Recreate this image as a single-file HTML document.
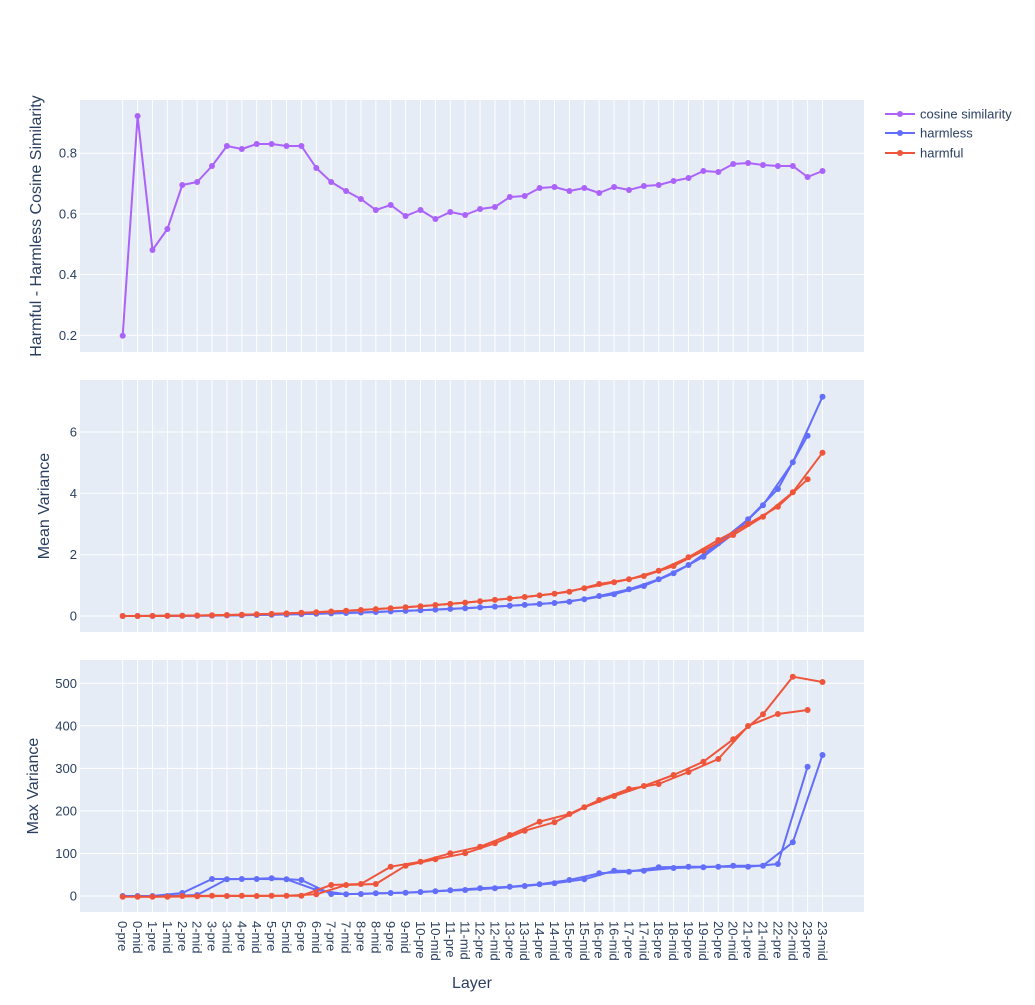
<!DOCTYPE html>
<html><head><meta charset="utf-8"><style>
html,body{margin:0;padding:0;background:#fff;}
svg text{font-family:"Liberation Sans",Arial,sans-serif;fill:#2a3f5f;}
</style></head><body>
<svg id="s" width="1035" height="1000" xmlns="http://www.w3.org/2000/svg"></svg>
<script>
const s=document.getElementById('s');
let h='';
const L=80,R=864,X0=122.7,DX=14.89;
const xs=i=>X0+i*DX;
const cats=[];for(let l=0;l<24;l++){cats.push(l+'-pre');cats.push(l+'-mid');}
const panels=[[100,352],[380,632],[660,912]];
for(const [t,b] of panels){
 h+=`<rect x="${L}" y="${t}" width="${R-L}" height="${b-t}" fill="#e5ecf6"/>`;
 for(let i=0;i<48;i++) h+=`<line x1="${xs(i)}" x2="${xs(i)}" y1="${t}" y2="${b}" stroke="#fff" stroke-width="1"/>`;
}
function yt(vals,ys){vals.forEach((v,k)=>{h+=`<line x1="${L}" x2="${R}" y1="${ys[k]}" y2="${ys[k]}" stroke="#fff" stroke-width="1"/>`;h+=`<text x="${L-3}" y="${ys[k]+4.5}" font-size="13" text-anchor="end">${v}</text>`;});}
yt(['0.2','0.4','0.6','0.8'],[335.3,274.6,213.9,153.2]);
yt(['0','2','4','6'],[616,554.7,493.3,432]);
yt(['0','100','200','300','400','500'],[896,853.5,810.9,768.4,725.8,683.3]);
cats.forEach((c,i)=>{h+=`<text transform="translate(${xs(i)-4.5},921) rotate(90)" font-size="13">${c}</text>`;});
function line(pts,col){h+=`<polyline points="${pts.map(p=>p[0].toFixed(1)+','+p[1].toFixed(1)).join(' ')}" fill="none" stroke="${col}" stroke-width="2" stroke-linejoin="round"/>`;pts.forEach(p=>{h+=`<circle cx="${p[0].toFixed(1)}" cy="${p[1].toFixed(1)}" r="3" fill="${col}"/>`;});}
const cos=[335.7,116,250,229,185,182,166,146,149,144,144,146,146,168,182,191,199,210,205,216,210,219,212,215,209,207,197,196,188,187,191,188,193,187,190,186,185,181,178,171,172,164,163,165,166,166,177,171];
line(cos.map((y,i)=>[xs(i),y]),'#ab63fa');
function split(arr,col){const pre=[],mid=[];arr.forEach((y,i)=>{(i%2?mid:pre).push([xs(i),y]);});line(pre,col);line(mid,col);}
const mb=[],mr=[];
const bT=[601.7,599.3,596,594.3,589.3,586,579.3,573.3,565,556.7,543.3,534,519.3,505.3,489,462.3,435.7,396.7];
const rT=[591.7,588.3,584,582.3,579.3,576,570.7,566,557.3,550.7,540,535,524,516.7,506.7,492.3,479.3,452.7];
for(let i=0;i<30;i++){mb.push(616-14*Math.pow(i/30,2.2));mr.push(616-24*Math.pow(i/30,2.2));}
mb.push(...bT);mr.push(...rT);
split(mb,'#636efa');split(mr,'#ef553b');
const xb=[896,896,896,896,893,895,879,879.3,879,879,878.3,879.3,880,890,894,894.3,894,893.3,893,892.7,892,891.3,890.3,890,889.3,888.3];
const xbT=[685,685,680,678,673,670,660,658,640,632,635,632,622,624,620,622,620,617,620,617,612,547,320,285];
const xr=[896.7,896.7,896.7,896.7,896,896.3,895.7,896,895.7,896,895.7,895.7,895.7,894.3,885,885,884,884,866.7,865.7,861.7,859.3,853.3,853.3];
const xrT=[560,550,525,512,485,487,462,442,420,408,387,378,372,345,336,305,297,238,198,163,162,50,150,66];
const blue=xb.slice(0,24).concat(xbT.map(z=>660+z/3));
const red=xr.concat(xrT.map(z=>660+z/3));
split(blue,'#636efa');split(red,'#ef553b');
h+=`<text transform="translate(41,226) rotate(-90)" font-size="16" text-anchor="middle">Harmful - Harmless Cosine Similarity</text>`;
h+=`<text transform="translate(49,506) rotate(-90)" font-size="16" text-anchor="middle">Mean Variance</text>`;
h+=`<text transform="translate(38,786) rotate(-90)" font-size="16" text-anchor="middle">Max Variance</text>`;
h+=`<text x="472" y="988" font-size="16" text-anchor="middle">Layer</text>`;
const lg=[['cosine similarity','#ab63fa',114],['harmless','#636efa',133],['harmful','#ef553b',153]];
lg.forEach(([t,c,y])=>{h+=`<line x1="885" x2="915" y1="${y}" y2="${y}" stroke="${c}" stroke-width="2"/><circle cx="900" cy="${y}" r="3" fill="${c}"/><text x="920" y="${y+4.5}" font-size="13">${t}</text>`;});
s.innerHTML=h;
</script>
</body></html>
